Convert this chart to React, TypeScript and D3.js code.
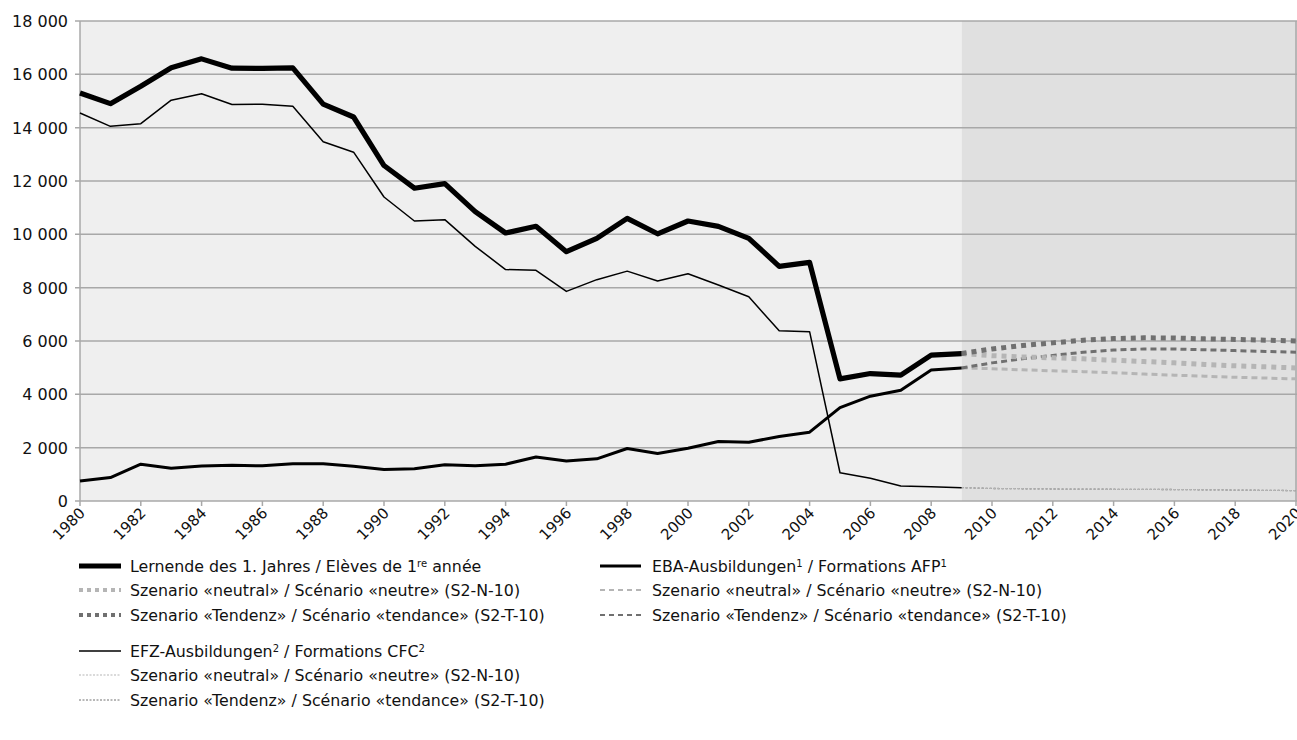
import { useEffect, useRef } from "react";
import * as d3 from "d3";

// historical years 1980-2009, forecast years 2009-2020
const histYears = d3.range(1980, 2010);
const fcYears = d3.range(2009, 2021);

const total = [15300, 14900, 15550, 16250, 16580, 16230, 16220, 16240, 14880, 14400,
  12580, 11730, 11900, 10850, 10050, 10300, 9350, 9850, 10600, 10020,
  10500, 10300, 9850, 8800, 8950, 4580, 4780, 4720, 5470, 5530];
const efz = [14550, 14050, 14150, 15030, 15270, 14870, 14880, 14800, 13470, 13080,
  11400, 10500, 10550, 9550, 8680, 8650, 7860, 8300, 8620, 8250,
  8520, 8100, 7660, 6380, 6350, 1060, 850, 560, 530, 500];
const eba = [750, 880, 1380, 1230, 1310, 1340, 1320, 1400, 1400, 1300,
  1180, 1210, 1360, 1320, 1380, 1650, 1500, 1580, 1970, 1780,
  1980, 2230, 2200, 2420, 2580, 3500, 3930, 4150, 4910, 4990];

const totalNeutral = [5530, 5450, 5400, 5370, 5330, 5280, 5230, 5180, 5120, 5070, 5030, 4990];
const totalTendenz = [5530, 5700, 5830, 5930, 6030, 6090, 6120, 6110, 6080, 6060, 6030, 6000];
const ebaNeutral = [4990, 4960, 4920, 4880, 4850, 4810, 4760, 4720, 4680, 4640, 4610, 4580];
const ebaTendenz = [4990, 5180, 5330, 5460, 5580, 5660, 5700, 5700, 5670, 5640, 5610, 5580];
const efzNeutral = [500, 470, 460, 450, 445, 440, 435, 430, 420, 410, 400, 390];
const efzTendenz = [500, 470, 460, 450, 445, 440, 435, 430, 420, 410, 400, 390];

const yTicks = d3.range(0, 18001, 2000);
const xTicks = d3.range(1980, 2021, 2);

const LIGHT = "#b5b5b5";
const DARK = "#707070";
const FONT = "'DejaVu Sans', sans-serif";

export default function App() {
  const ref = useRef<SVGSVGElement>(null);

  useEffect(() => {
    const svg = d3.select(ref.current);
    svg.selectAll("*").remove();
    const left = 80, right = 1296, top = 21, bottom = 501;
    const x = d3.scaleLinear().domain([1980, 2020]).range([left, right]);
    const y = d3.scaleLinear().domain([0, 18000]).range([bottom, top]);

    // backgrounds
    svg.append("rect").attr("x", left).attr("y", top)
      .attr("width", x(2009) - left).attr("height", bottom - top).attr("fill", "#efefef");
    svg.append("rect").attr("x", x(2009)).attr("y", top)
      .attr("width", 1297 - x(2009)).attr("height", bottom - top).attr("fill", "#e0e0e0");

    // grid
    svg.append("g").selectAll("line").data(yTicks.slice(1)).enter().append("line")
      .attr("x1", left - 5).attr("x2", 1297)
      .attr("y1", d => y(d)).attr("y2", d => y(d))
      .attr("stroke", "#a8a8a8").attr("stroke-width", 1.5);

    // axes
    svg.append("line").attr("x1", left).attr("x2", left).attr("y1", top).attr("y2", bottom)
      .attr("stroke", "#a8a8a8").attr("stroke-width", 1.5);
    svg.append("line").attr("x1", left - 5).attr("x2", 1297).attr("y1", bottom).attr("y2", bottom)
      .attr("stroke", "#a8a8a8").attr("stroke-width", 1.5);
    svg.append("line").attr("x1", 1296).attr("x2", 1296).attr("y1", top).attr("y2", bottom)
      .attr("stroke", "#a8a8a8").attr("stroke-width", 1.5);

    svg.append("g").selectAll("line").data(xTicks).enter().append("line")
      .attr("x1", d => x(d)).attr("x2", d => x(d))
      .attr("y1", bottom).attr("y2", bottom + 5)
      .attr("stroke", "#a8a8a8").attr("stroke-width", 1.5);

    svg.append("g").selectAll("text").data(yTicks).enter().append("text")
      .attr("x", 68).attr("y", d => y(d) + 6)
      .attr("text-anchor", "end")
      .attr("font-family", FONT).attr("font-size", 16).attr("fill", "#111")
      .text(d => d3.format(",")(d).replace(/,/g, " "));

    svg.append("g").selectAll("text").data(xTicks).enter().append("text")
      .attr("transform", d => `translate(${x(d) + 6},${bottom + 13}) rotate(-45)`)
      .attr("text-anchor", "end")
      .attr("font-family", FONT).attr("font-size", 15).attr("fill", "#111")
      .text(d => d);

    const line = d3.line<number>();
    const drawLine = (years: number[], vals: number[], color: string, width: number, dash?: string, cap = "butt") => {
      const pts = years.map((yr, i) => [x(yr), y(vals[i])] as [number, number]);
      svg.append("path")
        .attr("d", line(pts as any))
        .attr("fill", "none")
        .attr("stroke", color)
        .attr("stroke-width", width)
        .attr("stroke-dasharray", dash || null)
        .attr("stroke-linejoin", "round")
        .attr("stroke-linecap", cap);
    };

    // forecasts
    drawLine(fcYears, efzTendenz, DARK, 1.3, "2 2");
    drawLine(fcYears, efzNeutral, LIGHT, 1.3, "2 2");
    drawLine(fcYears, ebaNeutral, LIGHT, 3, "6 4");
    drawLine(fcYears, ebaTendenz, DARK, 3, "6 4");
    drawLine(fcYears, totalNeutral, LIGHT, 5, "5 5");
    drawLine(fcYears, totalTendenz, DARK, 5, "5 5");

    // history
    drawLine(histYears, efz, "#000", 1.5);
    drawLine(histYears, eba, "#000", 3);
    drawLine(histYears, total, "#000", 5.2);

    // legend
    const leg = svg.append("g").attr("font-family", FONT).attr("font-size", 15.8).attr("fill", "#111");
    const sample = (x0: number, yy: number, len: number, color: string, width: number, dash?: string) => {
      leg.append("line").attr("x1", x0).attr("x2", x0 + len).attr("y1", yy).attr("y2", yy)
        .attr("stroke", color).attr("stroke-width", width).attr("stroke-dasharray", dash || null);
    };
    const label = (x0: number, yy: number, parts: [string, boolean][]) => {
      const t = leg.append("text").attr("x", x0).attr("y", yy + 5.5);
      parts.forEach(([s, sup]) => {
        if (sup) {
          t.append("tspan").attr("font-size", 10).attr("baseline-shift", "super").text(s);
        } else {
          t.append("tspan").text(s);
        }
      });
    };

    const rows = [566, 590, 615];
    sample(79, rows[0], 42, "#000", 5);
    label(130, rows[0], [["Lernende des 1. Jahres / Elèves de 1", false], ["re", true], [" année", false]]);
    sample(79, rows[1], 42, LIGHT, 4, "4 4");
    label(130, rows[1], [["Szenario «neutral» / Scénario «neutre» (S2-N-10)", false]]);
    sample(79, rows[2], 42, DARK, 4, "4 4");
    label(130, rows[2], [["Szenario «Tendenz» / Scénario «tendance» (S2-T-10)", false]]);

    sample(600, rows[0], 41, "#000", 3);
    label(652, rows[0], [["EBA-Ausbildungen", false], ["1", true], [" / Formations AFP", false], ["1", true]]);
    sample(600, rows[1], 41, LIGHT, 2, "5 4");
    label(652, rows[1], [["Szenario «neutral» / Scénario «neutre» (S2-N-10)", false]]);
    sample(600, rows[2], 41, DARK, 2, "5 4");
    label(652, rows[2], [["Szenario «Tendenz» / Scénario «tendance» (S2-T-10)", false]]);

    const rows2 = [651, 675, 700];
    sample(79, rows2[0], 42, "#000", 1.3);
    label(130, rows2[0], [["EFZ-Ausbildungen", false], ["2", true], [" / Formations CFC", false], ["2", true]]);
    sample(79, rows2[1], 42, LIGHT, 1, "2 1.5");
    label(130, rows2[1], [["Szenario «neutral» / Scénario «neutre» (S2-N-10)", false]]);
    sample(79, rows2[2], 42, DARK, 1, "2 1.5");
    label(130, rows2[2], [["Szenario «Tendenz» / Scénario «tendance» (S2-T-10)", false]]);
  }, []);

  return (
    <svg ref={ref} width={1297} height={740}
      style={{ position: "absolute", left: 0, top: 0, background: "#fff" }} />
  );
}
